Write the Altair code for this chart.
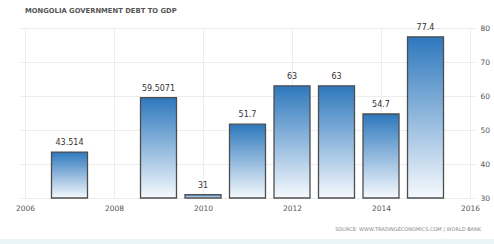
import altair as alt
import pandas as pd

years = [2007, 2009, 2010, 2011, 2012, 2013, 2014, 2015]
values = [43.514, 59.5071, 31, 51.7, 63, 63, 54.7, 77.4]
labels = ["43.514", "59.5071", "31", "51.7", "63", "63", "54.7", "77.4"]
x_ticks = [2006, 2008, 2010, 2012, 2014, 2016]
y_ticks = [30, 40, 50, 60, 70, 80]
title_text = "MONGOLIA GOVERNMENT DEBT TO GDP"
source_text = "SOURCE: WWW.TRADINGECONOMICS.COM | WORLD BANK"

df = pd.DataFrame({"year": years, "value": values, "label": labels})

FONT = "DejaVu Sans"

xscale = alt.Scale(domain=[2006, 2016], nice=False, zero=False)
yscale = alt.Scale(domain=[30, 80], nice=False, zero=False)

xaxis = alt.Axis(values=x_ticks, format="d", title=None, grid=True,
                 gridColor="#ececec", domain=False, ticks=False,
                 labelOverlap=False, tickCount=6,
                 labelFont=FONT, labelFontSize=7.5, labelColor="#555",
                 labelPadding=6)
yaxis = alt.Axis(values=y_ticks, orient="right", title=None, grid=True,
                 gridColor="#ececec", domain=False, ticks=False,
                 labelOverlap=False, tickCount=6,
                 labelFont=FONT, labelFontSize=7.5, labelColor="#555",
                 labelPadding=5)

base = alt.Chart(df)

bars = base.mark_bar(
    size=36,
    stroke="#4d4d4d",
    strokeWidth=1.3,
    color=alt.Gradient(
        gradient="linear",
        stops=[alt.GradientStop(color="#2e78bd", offset=0),
               alt.GradientStop(color="#f5f9fd", offset=1)],
        x1=0, x2=0, y1=0, y2=1,
    ),
).encode(
    x=alt.X("year:Q", scale=xscale, axis=xaxis),
    y=alt.Y("value:Q", scale=yscale, axis=yaxis),
    y2=alt.datum(30),
)

text = base.mark_text(dy=-9, font=FONT, fontSize=8, color="#333").encode(
    x=alt.X("year:Q", scale=xscale, axis=xaxis),
    y=alt.Y("value:Q", scale=yscale, axis=yaxis),
    text="label:N",
)

meta = pd.DataFrame({"t": [title_text], "s": [source_text]})
title = alt.Chart(meta).mark_text(
    align="left", baseline="middle", font=FONT, fontSize=6.8,
    fontWeight="bold", color="#555"
).encode(x=alt.value(5), y=alt.value(-17), text="t:N")

source = alt.Chart(meta).mark_text(
    align="right", baseline="middle", font=FONT, fontSize=5,
    color="#888"
).encode(x=alt.value(461), y=alt.value(201), text="s:N")

band = alt.Chart(meta).mark_rect(color="#e9f5f8").encode(
    x=alt.value(-20), x2=alt.value(474), y=alt.value(211), y2=alt.value(216)
)

chart = alt.layer(band, bars, text, title, source).properties(
    width=455, height=170,
    autosize=alt.AutoSizeParams(type="none"),
    padding={"left": 20, "top": 28, "right": 19, "bottom": 46},
    background="white",
).configure_view(stroke=None).configure_axis(labelOverlap=False)

chart.save("out.html", embed_options={"renderer": "svg", "actions": False})
